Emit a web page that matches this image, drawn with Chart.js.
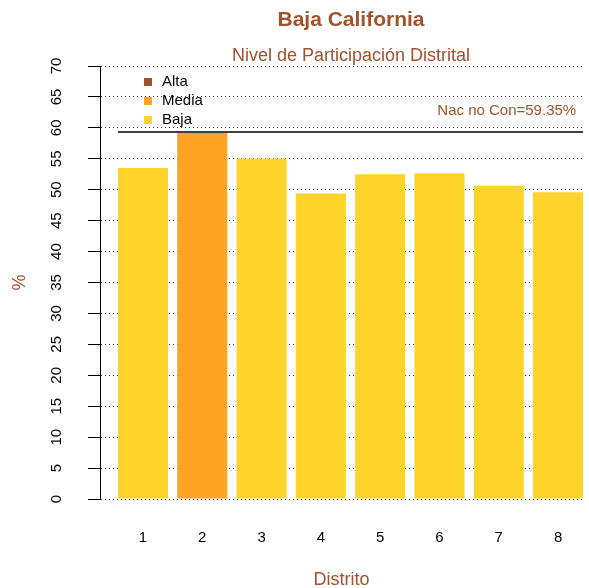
<!DOCTYPE html>
<html>
<head>
<meta charset="utf-8">
<script src="https://cdn.jsdelivr.net/npm/chart.js@4"></script>
<style>
    html, body { margin: 0; padding: 0; background: #fff; }
    #contenedor { width: 589px; height: 588px; }
</style>
</head>
<body>
<div id="contenedor"><canvas id="grafica" width="589" height="588"></canvas></div>
<script>
// datos de la grafica
const distritos = ['1', '2', '3', '4', '5', '6', '7', '8'];
const participacion = [53.5, 59.2, 55.05, 49.4, 52.5, 52.65, 50.65, 49.6];
const nivelDistrito = ['Baja', 'Media', 'Baja', 'Baja', 'Baja', 'Baja', 'Baja', 'Baja'];
const niveles = ['Alta', 'Media', 'Baja'];
const coloresNivel = ['#A0522D', '#FFA326', '#FFD42A'];
const nacional = 59.35;
const ticksY = [0, 5, 10, 15, 20, 25, 30, 35, 40, 45, 50, 55, 60, 65, 70];

const titulo = 'Baja California';
const subtitulo = 'Nivel de Participación Distrital';

const SIENA = '#A0522D';
const FUENTE = '"Liberation Sans", Arial, sans-serif';

// titulos, linea nacional, su etiqueta y la leyenda
const extras = {
    id: 'extras',
    afterDraw(chart) {
        const ctx = chart.ctx;
        const area = chart.chartArea;
        const centro = (area.left + area.right) / 2 + 9.5;

        ctx.save();
        ctx.textAlign = 'center';
        ctx.textBaseline = 'middle';
        ctx.fillStyle = SIENA;
        ctx.font = 'bold 21px ' + FUENTE;
        ctx.fillText(titulo, centro, 20);
        ctx.font = '18px ' + FUENTE;
        ctx.fillText(subtitulo, centro, 56.5);
        ctx.restore();
    },
    afterDatasetsDraw(chart) {
        const ctx = chart.ctx;
        const area = chart.chartArea;
        const barras = chart.getDatasetMeta(0).data;
        const primera = barras[0];
        const ultima = barras[barras.length - 1];
        const x0 = primera.x - primera.width / 2;
        const x1 = ultima.x + ultima.width / 2;
        const yNac = chart.scales.y.getPixelForValue(nacional);

        ctx.save();
        ctx.strokeStyle = '#000';
        ctx.lineWidth = 1.5;
        ctx.beginPath();
        ctx.moveTo(x0, yNac);
        ctx.lineTo(x1, yNac);
        ctx.stroke();

        ctx.fillStyle = SIENA;
        ctx.font = '15px ' + FUENTE;
        ctx.textAlign = 'right';
        ctx.textBaseline = 'middle';
        ctx.fillText('Nac no Con=' + nacional.toFixed(2) + '%', x1 - 7, yNac - 21);

        // leyenda
        ctx.textAlign = 'left';
        niveles.forEach((nivel, i) => {
            const yy = area.top + 16 + i * 19;
            ctx.fillStyle = coloresNivel[i];
            ctx.fillRect(area.left + 44, yy - 4, 8, 8);
            ctx.fillStyle = '#000';
            ctx.fillText(nivel, area.left + 62, yy);
        });
        ctx.restore();
    }
};

function colorDe(nivel) {
    return coloresNivel[niveles.indexOf(nivel)];
}

document.addEventListener('DOMContentLoaded', () => {
    Chart.defaults.font.family = FUENTE;

    new Chart(document.getElementById('grafica'), {
        type: 'bar',
        data: {
            datasets: [{
                data: participacion.map((v, i) => ({ x: i + 1, y: v })),
                backgroundColor: nivelDistrito.map(colorDe),
                borderWidth: 0,
                categoryPercentage: 1,
                barPercentage: 0.845
            }]
        },
        options: {
            responsive: false,
            animation: false,
            layout: { padding: { left: 0, right: 6, top: 66, bottom: 0 } },
            plugins: {
                legend: { display: false },
                tooltip: { enabled: false }
            },
            scales: {
                x: {
                    type: 'linear',
                    offset: false,
                    min: 0.275,
                    max: 8.42,
                    afterBuildTicks: (scale) => {
                        scale.ticks = distritos.map((d, i) => ({ value: i + 1 }));
                    },
                    afterFit: (scale) => {
                        scale.paddingLeft = 0;
                        scale.paddingRight = 0;
                    },
                    ticks: {
                        color: '#000',
                        font: { size: 15 },
                        padding: 29.5,
                        autoSkip: false,
                        maxRotation: 0,
                        callback: (value, index) => distritos[index]
                    },
                    grid: { display: false, drawTicks: false },
                    border: { display: false },
                    title: {
                        display: true,
                        text: 'Distrito',
                        color: SIENA,
                        font: { size: 18 },
                        padding: { top: -6.8, bottom: -2.8 }
                    }
                },
                y: {
                    min: 0,
                    max: 70,
                    afterBuildTicks: (scale) => {
                        scale.ticks = ticksY.map(v => ({ value: v }));
                    },
                    afterFit: (scale) => {
                        scale.paddingTop = 0;
                        scale.paddingBottom = 0;
                    },
                    ticks: {
                        color: '#000',
                        font: { size: 15 },
                        minRotation: 90,
                        maxRotation: 90,
                        crossAlign: 'center',
                        padding: 22.65
                    },
                    grid: {
                        color: '#333',
                        lineWidth: 1,
                        tickLength: 12,
                        tickColor: '#000',
                        tickBorderDash: [],
                        tickWidth: 1
                    },
                    border: { display: true, color: '#000', width: 1, dash: [1, 3] },
                    title: {
                        display: true,
                        text: '%',
                        color: SIENA,
                        font: { size: 18 },
                        padding: { top: 9.2, bottom: -6.1 }
                    }
                }
            }
        },
        plugins: [extras]
    });
});
</script>
</body>
</html>
